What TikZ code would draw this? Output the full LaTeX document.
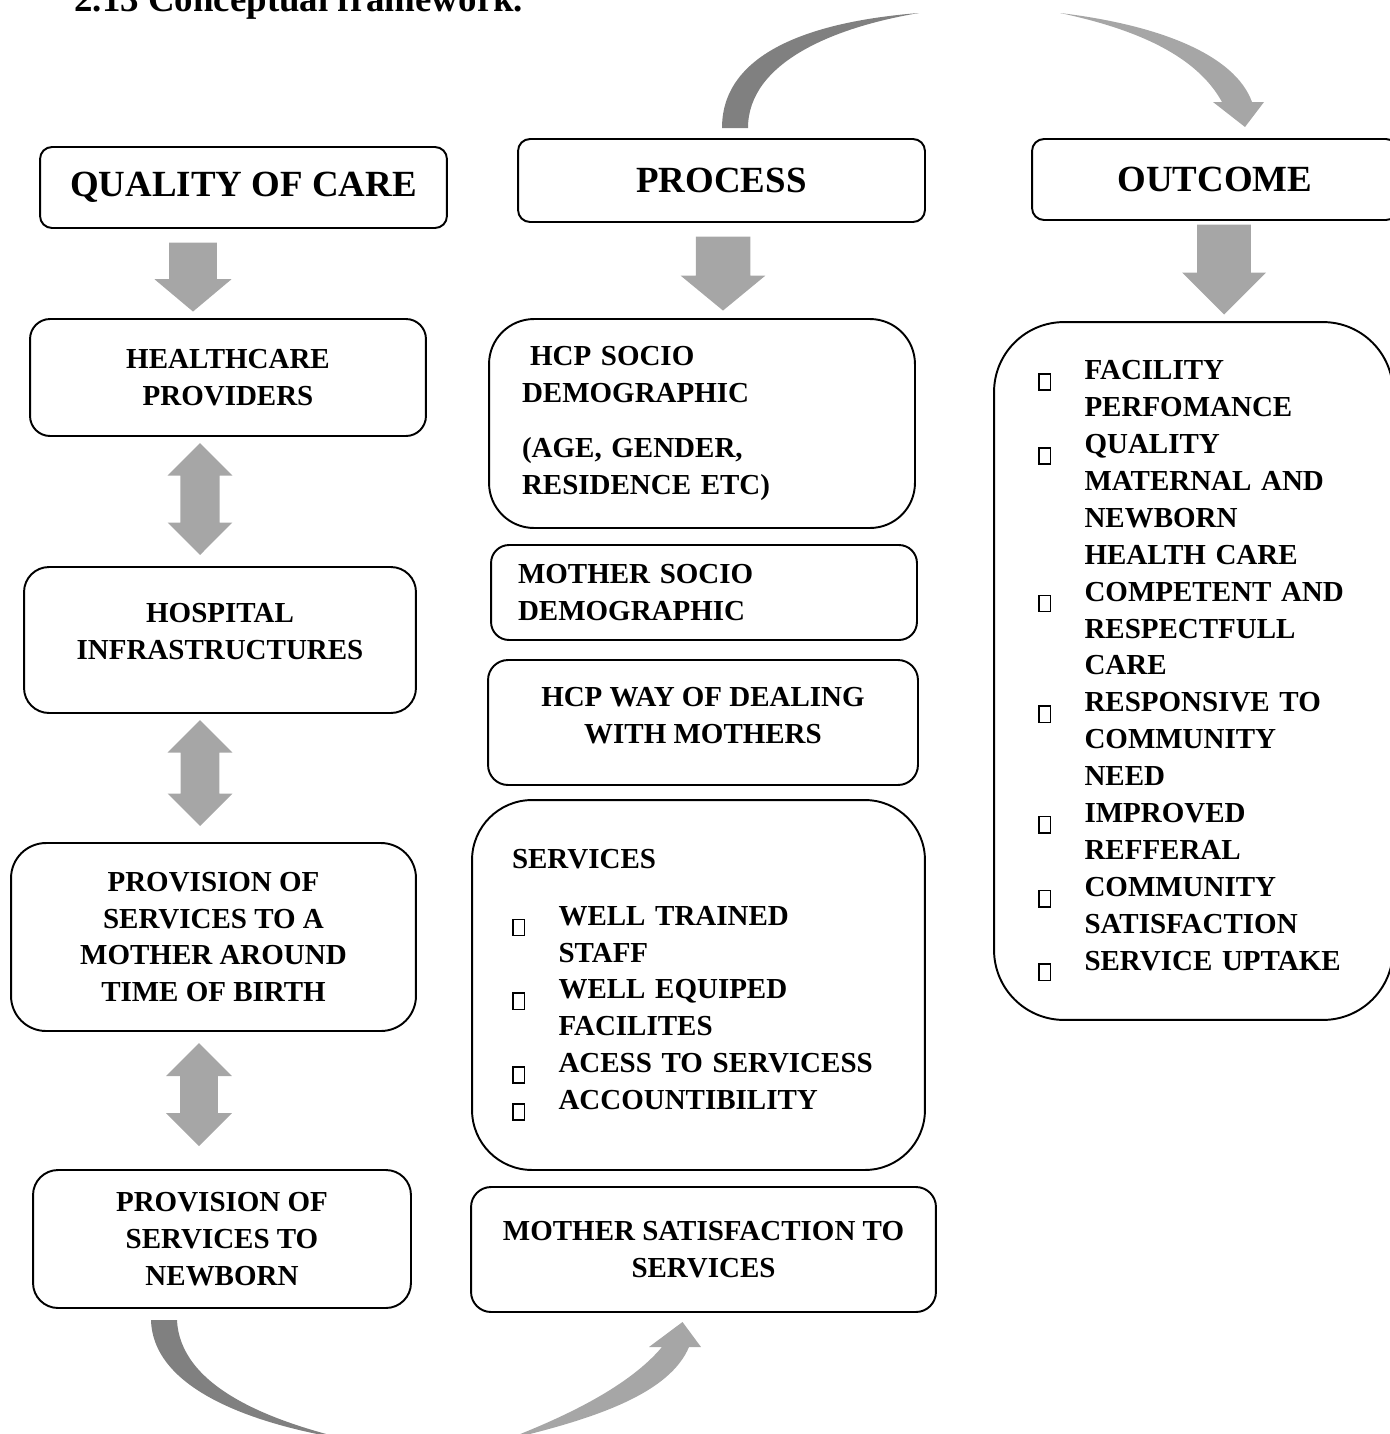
\documentclass[tikz,border=0pt]{standalone}
\usepackage{fontspec}
\setmainfont{Liberation Serif}
\usetikzlibrary{shapes.arrows, positioning}
\definecolor{cfGray}{HTML}{A6A6A6}
\definecolor{cfDark}{HTML}{808080}

\newcommand{\boxfont}{\fontsize{16.5}{21}\selectfont\bfseries}
\newcommand{\headfont}{\fontsize{21}{25}\selectfont\bfseries}
\newcommand{\sqbox}{\raisebox{-5.5pt}{\setlength{\fboxsep}{0pt}\setlength{\fboxrule}{0.9pt}\framebox{\rule{0pt}{8.4pt}\hspace{5.8pt}}}}
\newcommand{\bitem}{\makebox[0.93cm][l]{\sqbox}}
\newcommand{\bcont}{\hspace*{0.93cm}}

\begin{document}
\begin{tikzpicture}[x=0.02cm, y=-0.02cm,
    box/.style={rectangle, draw=black, line width=1.1pt, align=center,
                font=\boxfont, inner sep=0pt},
    head/.style={box, rounded corners=0.24cm, font=\headfont, minimum width=8.14cm},
    listbox/.style={box, align=left},
    arrowdown/.style={single arrow, shape border rotate=270, fill=cfGray,
                draw=none, anchor=tip},
    arrowboth/.style={double arrow, shape border rotate=90, fill=cfGray,
                draw=none, double arrow tip angle=90},
  ]
    \useasboundingbox (0,0) rectangle (1390,1434);
    \clip (0,0) rectangle (1390,1434);

    \node[anchor=base west, inner sep=0pt, font=\fontsize{21}{25}\selectfont\bfseries]
      (title) at (74,11) {2.13 Conceptual framework.};

    % headers
    \node[head, minimum height=1.62cm] (qoc) at (243.5,187.5) {QUALITY OF CARE};
    \node[head, minimum height=1.66cm] (proc) at (721.5,180.5) {PROCESS};
    \node[head, minimum width=7.32cm, minimum height=1.62cm] (outc) at (1215,179.5) {OUTCOME};

    % quality of care column
    \node[box, rounded corners=0.4cm, minimum width=7.92cm, minimum height=2.34cm]
      (hprov) at (228,377.5) {HEALTHCARE\\PROVIDERS};
    \node[box, rounded corners=0.5cm, minimum width=7.84cm, minimum height=2.92cm, text depth=0.34cm]
      (hinfra) at (220,640) {HOSPITAL\\INFRASTRUCTURES};
    \node[box, rounded corners=0.7cm, minimum width=8.1cm, minimum height=3.76cm]
      (provm) at (213.5,937) {PROVISION OF\\SERVICES TO A\\MOTHER AROUND\\TIME OF BIRTH};
    \node[box, rounded corners=0.5cm, minimum width=7.56cm, minimum height=2.76cm]
      (provn) at (222,1239) {PROVISION OF\\SERVICES TO\\NEWBORN};

    % process column
    \node[listbox, rounded corners=0.9cm, text width=7.2cm, inner xsep=0.66cm, minimum height=4.18cm]
      (hcpsoc) at (702,423.5) {\hspace*{0.16cm}HCP SOCIO\\DEMOGRAPHIC\\[0.36cm](AGE, GENDER,\\RESIDENCE ETC)};
    \node[listbox, rounded corners=0.36cm, text width=7.44cm, inner xsep=0.54cm, minimum height=1.9cm]
      (motsoc) at (704,592.5) {MOTHER SOCIO\\DEMOGRAPHIC};
    \node[box, rounded corners=0.4cm, minimum width=8.6cm, minimum height=2.5cm, text depth=0.3cm]
      (hcpway) at (703,722.5) {HCP WAY OF DEALING\\WITH MOTHERS};
    \node[listbox, rounded corners=1.2cm, text width=7.46cm, inner xsep=0.8cm, minimum height=7.4cm]
      (serv) at (698.5,985) {SERVICES\\[0.4cm]
        \bitem WELL TRAINED\\ \bcont STAFF\\ \bitem WELL EQUIPED\\ \bcont FACILITES\\
        \bitem ACESS TO SERVICESS\\ \bitem ACCOUNTIBILITY};
    \node[box, rounded corners=0.4cm, minimum width=9.3cm, minimum height=2.5cm]
      (motsat) at (703.5,1249.5) {MOTHER SATISFACTION TO\\SERVICES};

    % outcome column
    \node[listbox, rounded corners=1.4cm, text width=6.22cm, inner xsep=0.88cm, minimum height=13.96cm]
      (outlist) at (1193.5,671) {\bitem FACILITY\\ \bcont PERFOMANCE\\ \bitem QUALITY\\
        \bcont MATERNAL AND\\ \bcont NEWBORN\\ \bcont HEALTH CARE\\ \bitem COMPETENT AND\\
        \bcont RESPECTFULL\\ \bcont CARE\\ \bitem RESPONSIVE TO\\ \bcont COMMUNITY\\
        \bcont NEED\\ \bitem IMPROVED\\ \bcont REFFERAL\\ \bitem COMMUNITY\\
        \bcont SATISFACTION\\ \bitem SERVICE UPTAKE};

    % block arrows
    \node[arrowdown, single arrow tip angle=100, minimum height=1.38cm, minimum width=1.54cm,
      inner sep=0.4cm] (d1) at (193,312) {};
    \node[arrowdown, single arrow tip angle=101, minimum height=1.48cm, minimum width=1.7cm,
      inner sep=0.44cm] (d2) at (723,311) {};
    \node[arrowdown, single arrow tip angle=90, minimum height=1.8cm, minimum width=1.68cm,
      inner sep=0.44cm] (d3) at (1224,315) {};
    \node[arrowboth, minimum height=2.24cm, minimum width=1.3cm, inner sep=0.37cm] (b1) at (200,499) {};
    \node[arrowboth, minimum height=2.12cm, minimum width=1.3cm, inner sep=0.36cm] (b2) at (200,773) {};
    \node[arrowboth, minimum height=2.06cm, minimum width=1.32cm, inner sep=0.33cm] (b3) at (199,1094.5) {};

    % curved arrows
    \fill[cfDark] (722,128) .. controls (722,45) and (830,20) .. (919,13)
      .. controls (835,27) and (748,62) .. (748,128) -- cycle;
    \fill[cfGray] (1060,13) .. controls (1160,25) and (1235,55) .. (1252,102)
      -- (1264,102) -- (1245,127) -- (1213,102) -- (1222,102)
      .. controls (1200,62) and (1150,32) .. (1060,13) -- cycle;
    \fill[cfDark] (151,1320) -- (177,1320) .. controls (180,1385) and (265,1420) .. (350,1440)
      .. controls (255,1425) and (153,1390) .. (151,1320) -- cycle;
    \fill[cfGray] (505,1440) .. controls (600,1418) and (670,1392) .. (689,1347)
      -- (701,1347) -- (682.5,1322) -- (649,1347) -- (662,1347)
      .. controls (630,1385) and (570,1415) .. (505,1440) -- cycle;
\end{tikzpicture}
\end{document}
